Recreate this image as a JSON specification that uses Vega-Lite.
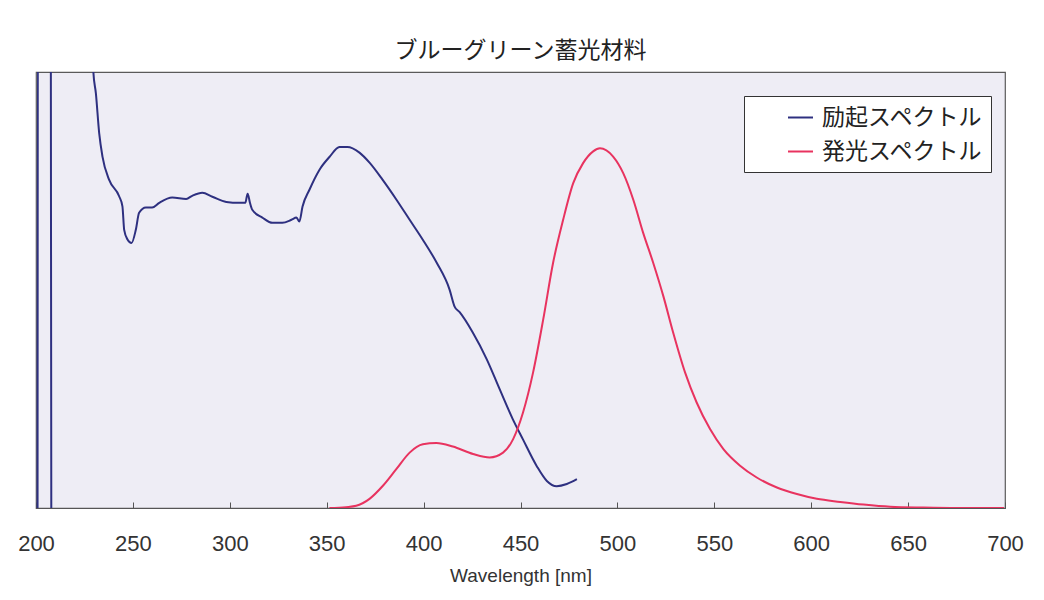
{
  "$schema": "https://vega.github.io/schema/vega-lite/v6.json",
  "autosize": "none",
  "width": 969,
  "height": 436,
  "padding": {"left": 36, "top": 72, "right": 39, "bottom": 92},
  "background": "white",
  "title": {
    "text": "ブルーグリーン蓄光材料",
    "font": "Noto Sans CJK JP",
    "fontSize": 23,
    "fontWeight": "normal",
    "color": "#222222",
    "anchor": "middle",
    "baseline": "bottom",
    "offset": -14
  },
  "config": {
    "view": {"fill": "#EEEDF5", "stroke": "#5a5a5a", "strokeWidth": 1.2},
    "axis": {"grid": false}
  },
  "data": {
    "values": [
      {"s": "励起スペクトル", "p": "a", "x": 200.8, "y": -5},
      {"s": "励起スペクトル", "p": "a", "x": 201.0, "y": 130},
      {"s": "励起スペクトル", "p": "a", "x": 207.6, "y": 130},
      {"s": "励起スペクトル", "p": "a", "x": 207.9, "y": -5},
      {"s": "励起スペクトル", "p": "b", "x": 229.2, "y": 108},
      {"s": "励起スペクトル", "p": "b", "x": 229.6, "y": 100},
      {"s": "励起スペクトル", "p": "b", "x": 230.9, "y": 95.1},
      {"s": "励起スペクトル", "p": "b", "x": 232.6, "y": 86.0},
      {"s": "励起スペクトル", "p": "b", "x": 234.3, "y": 80.6},
      {"s": "励起スペクトル", "p": "b", "x": 237.7, "y": 75.3},
      {"s": "励起スペクトル", "p": "b", "x": 242.9, "y": 71.5},
      {"s": "励起スペクトル", "p": "b", "x": 244.6, "y": 69.2},
      {"s": "励起スペクトル", "p": "b", "x": 245.5, "y": 63.8},
      {"s": "励起スペクトル", "p": "b", "x": 247.2, "y": 61.6},
      {"s": "励起スペクトル", "p": "b", "x": 249.3, "y": 60.8},
      {"s": "励起スペクトル", "p": "b", "x": 251.5, "y": 63.8},
      {"s": "励起スペクトル", "p": "b", "x": 253.2, "y": 67.7},
      {"s": "励起スペクトル", "p": "b", "x": 256.7, "y": 68.9},
      {"s": "励起スペクトル", "p": "b", "x": 259.9, "y": 68.9},
      {"s": "励起スペクトル", "p": "b", "x": 263.6, "y": 70.0},
      {"s": "励起スペクトル", "p": "b", "x": 270.3, "y": 71.2},
      {"s": "励起スペクトル", "p": "b", "x": 277.5, "y": 70.9},
      {"s": "励起スペクトル", "p": "b", "x": 280.6, "y": 71.6},
      {"s": "励起スペクトル", "p": "b", "x": 285.8, "y": 72.3},
      {"s": "励起スペクトル", "p": "b", "x": 291.0, "y": 71.4},
      {"s": "励起スペクトル", "p": "b", "x": 298.2, "y": 70.2},
      {"s": "励起スペクトル", "p": "b", "x": 304.9, "y": 70.0},
      {"s": "励起スペクトル", "p": "b", "x": 308.0, "y": 70.0},
      {"s": "励起スペクトル", "p": "b", "x": 309.2, "y": 72.1},
      {"s": "励起スペクトル", "p": "b", "x": 310.4, "y": 70.0},
      {"s": "励起スペクトル", "p": "b", "x": 311.6, "y": 68.4},
      {"s": "励起スペクトル", "p": "b", "x": 316.8, "y": 66.6},
      {"s": "励起スペクトル", "p": "b", "x": 322.0, "y": 65.4},
      {"s": "励起スペクトル", "p": "b", "x": 327.1, "y": 65.4},
      {"s": "励起スペクトル", "p": "b", "x": 331.8, "y": 66.1},
      {"s": "励起スペクトル", "p": "b", "x": 334.4, "y": 66.6},
      {"s": "励起スペクトル", "p": "b", "x": 335.9, "y": 65.7},
      {"s": "励起スペクトル", "p": "b", "x": 337.5, "y": 69.1},
      {"s": "励起スペクトル", "p": "b", "x": 341.1, "y": 73.0},
      {"s": "励起スペクトル", "p": "b", "x": 346.3, "y": 77.6},
      {"s": "励起スペクトル", "p": "b", "x": 351.4, "y": 80.5},
      {"s": "励起スペクトル", "p": "b", "x": 356.6, "y": 82.8},
      {"s": "励起スペクトル", "p": "b", "x": 360.7, "y": 82.8},
      {"s": "励起スペクトル", "p": "b", "x": 366.9, "y": 81.5},
      {"s": "励起スペクトル", "p": "b", "x": 372.1, "y": 79.2},
      {"s": "励起スペクトル", "p": "b", "x": 378.8, "y": 75.3},
      {"s": "励起スペクトル", "p": "b", "x": 386.0, "y": 70.7},
      {"s": "励起スペクトル", "p": "b", "x": 392.8, "y": 66.1},
      {"s": "励起スペクトル", "p": "b", "x": 399.5, "y": 61.6},
      {"s": "励起スペクトル", "p": "b", "x": 406.7, "y": 56.3},
      {"s": "励起スペクトル", "p": "b", "x": 413.4, "y": 50.1},
      {"s": "励起スペクトル", "p": "b", "x": 416.0, "y": 46.2},
      {"s": "励起スペクトル", "p": "b", "x": 418.6, "y": 44.9},
      {"s": "励起スペクトル", "p": "b", "x": 425.3, "y": 40.3},
      {"s": "励起スペクトル", "p": "b", "x": 432.6, "y": 34.1},
      {"s": "励起スペクトル", "p": "b", "x": 439.3, "y": 27.2},
      {"s": "励起スペクトル", "p": "b", "x": 446.0, "y": 20.4},
      {"s": "励起スペクトル", "p": "b", "x": 451.2, "y": 15.8},
      {"s": "励起スペクトル", "p": "b", "x": 458.4, "y": 9.6},
      {"s": "励起スペクトル", "p": "b", "x": 463.6, "y": 6.2},
      {"s": "励起スペクトル", "p": "b", "x": 468.7, "y": 5.0},
      {"s": "励起スペクトル", "p": "b", "x": 473.9, "y": 5.5},
      {"s": "励起スペクトル", "p": "b", "x": 479.1, "y": 6.6},
      {"s": "発光スペクトル", "p": "c", "x": 351.4, "y": 0},
      {"s": "発光スペクトル", "p": "c", "x": 360.0, "y": 0.2},
      {"s": "発光スペクトル", "p": "c", "x": 365.2, "y": 0.5},
      {"s": "発光スペクトル", "p": "c", "x": 372.1, "y": 2.1},
      {"s": "発光スペクトル", "p": "c", "x": 379.0, "y": 5.1},
      {"s": "発光スペクトル", "p": "c", "x": 385.9, "y": 8.9},
      {"s": "発光スペクトル", "p": "c", "x": 392.8, "y": 12.7},
      {"s": "発光スペクトル", "p": "c", "x": 399.6, "y": 14.6},
      {"s": "発光スペクトル", "p": "c", "x": 406.6, "y": 14.9},
      {"s": "発光スペクトル", "p": "c", "x": 415.1, "y": 14.1},
      {"s": "発光スペクトル", "p": "c", "x": 425.5, "y": 12.4},
      {"s": "発光スペクトル", "p": "c", "x": 434.1, "y": 11.6},
      {"s": "発光スペクトル", "p": "c", "x": 441.0, "y": 12.7},
      {"s": "発光スペクトル", "p": "c", "x": 446.2, "y": 15.8},
      {"s": "発光スペクトル", "p": "c", "x": 451.3, "y": 21.9},
      {"s": "発光スペクトル", "p": "c", "x": 456.5, "y": 31.1},
      {"s": "発光スペクトル", "p": "c", "x": 461.7, "y": 43.2},
      {"s": "発光スペクトル", "p": "c", "x": 466.8, "y": 56.2},
      {"s": "発光スペクトル", "p": "c", "x": 472.0, "y": 66.1},
      {"s": "発光スペクトル", "p": "c", "x": 477.2, "y": 74.5},
      {"s": "発光スペクトル", "p": "c", "x": 482.3, "y": 79.1},
      {"s": "発光スペクトル", "p": "c", "x": 487.5, "y": 81.8},
      {"s": "発光スペクトル", "p": "c", "x": 491.0, "y": 82.5},
      {"s": "発光スペクトル", "p": "c", "x": 497.8, "y": 80.6},
      {"s": "発光スペクトル", "p": "c", "x": 503.0, "y": 76.8},
      {"s": "発光スペクトル", "p": "c", "x": 508.2, "y": 70.7},
      {"s": "発光スペクトル", "p": "c", "x": 513.3, "y": 63.1},
      {"s": "発光スペクトル", "p": "c", "x": 518.5, "y": 56.2},
      {"s": "発光スペクトル", "p": "c", "x": 523.7, "y": 48.6},
      {"s": "発光スペクトル", "p": "c", "x": 528.8, "y": 40.2},
      {"s": "発光スペクトル", "p": "c", "x": 534.9, "y": 31.1},
      {"s": "発光スペクトル", "p": "c", "x": 540.9, "y": 24.2},
      {"s": "発光スペクトル", "p": "c", "x": 547.8, "y": 18.1},
      {"s": "発光スペクトル", "p": "c", "x": 554.7, "y": 13.5},
      {"s": "発光スペクトル", "p": "c", "x": 563.3, "y": 9.7},
      {"s": "発光スペクトル", "p": "c", "x": 571.9, "y": 7.0},
      {"s": "発光スペクトル", "p": "c", "x": 582.3, "y": 4.7},
      {"s": "発光スペクトル", "p": "c", "x": 592.6, "y": 3.2},
      {"s": "発光スペクトル", "p": "c", "x": 602.9, "y": 2.1},
      {"s": "発光スペクトル", "p": "c", "x": 615.0, "y": 1.4},
      {"s": "発光スペクトル", "p": "c", "x": 627.0, "y": 0.8},
      {"s": "発光スペクトル", "p": "c", "x": 640.8, "y": 0.3},
      {"s": "発光スペクトル", "p": "c", "x": 657.9, "y": 0.1},
      {"s": "発光スペクトル", "p": "c", "x": 675.0, "y": 0},
      {"s": "発光スペクトル", "p": "c", "x": 699.5, "y": 0}
    ]
  },
  "mark": {"type": "line", "clip": true, "strokeWidth": 2, "interpolate": "monotone"},
  "encoding": {
    "x": {
      "field": "x",
      "type": "quantitative",
      "scale": {"domain": [200, 700], "nice": false, "zero": false},
      "axis": {
        "values": [200, 250, 300, 350, 400, 450, 500, 550, 600, 650, 700],
        "title": "Wavelength [nm]",
        "titleFont": "Liberation Sans",
        "titleFontSize": 19,
        "titleFontWeight": "normal",
        "titleColor": "#333333",
        "titlePadding": 12,
        "labelFont": "Liberation Sans",
        "labelFontSize": 22,
        "labelColor": "#333333",
        "labelFlush": false,
        "labelPadding": 31,
        "tickSize": -6,
        "tickColor": "#555555",
        "domainColor": "#555555"
      }
    },
    "y": {
      "field": "y",
      "type": "quantitative",
      "scale": {"domain": [0, 100], "nice": false},
      "axis": null
    },
    "detail": {"field": "p"},
    "color": {
      "field": "s",
      "type": "nominal",
      "scale": {"domain": ["励起スペクトル", "発光スペクトル"], "range": ["#2E3080", "#E8335F"]},
      "legend": {
        "title": null,
        "orient": "none",
        "legendX": 708,
        "legendY": 24,
        "fillColor": "white",
        "strokeColor": "#333333",
        "padding": 8,
        "symbolType": "stroke",
        "symbolSize": 625,
        "symbolStrokeWidth": 2,
        "symbolOffset": 35,
        "labelFont": "Noto Sans CJK JP",
        "labelFontSize": 23,
        "labelColor": "#222222",
        "labelLimit": 300,
        "labelOffset": 8,
        "rowPadding": 8
      }
    }
  }
}
